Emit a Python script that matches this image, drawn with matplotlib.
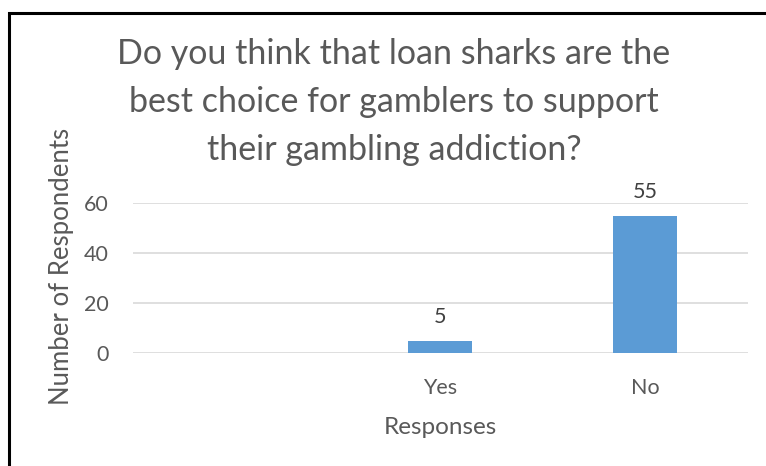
import matplotlib
matplotlib.use("Agg")
import matplotlib.pyplot as plt
from matplotlib.patches import Rectangle

# survey answers (first slot is an empty category, as in the sheet)
categories = ["", "Yes", "No"]
counts = [0, 5, 55]
shown = [False, True, True]

title = "Do you think that loan sharks are the\nbest choice for gamblers to support\ntheir gambling addiction?"

plt.rcParams['font.family'] = ['Lato', 'DejaVu Sans']
txt = '#595959'

fig = plt.figure(figsize=(7.66, 4.66), dpi=100)
ax = fig.add_axes([132.5 / 766, 113 / 466, 615 / 766, 150 / 466])

x = range(len(categories))
bars = ax.bar(x, counts, width=0.31, color='#5b9bd5', zorder=3)

for b, v, s in zip(bars, counts, shown):
    if s:
        ax.annotate(str(v), xy=(b.get_x() + b.get_width() / 2, v),
                    xytext=(0, 9.5), textcoords="offset points",
                    ha='center', va='bottom', fontsize=15.5, color='#404040')

ax.set_xlim(-0.5, 2.5)
ax.set_ylim(0, 60)
ax.set_yticks([0, 20, 40, 60])
ax.set_xticks(list(x))
ax.set_xticklabels(categories)
ax.yaxis.grid(True, color='#d9d9d9', linewidth=1.2, zorder=0)
for sp in ax.spines.values():
    sp.set_visible(False)
ax.tick_params(length=0, labelsize=15.5, labelcolor=txt)
ax.tick_params(axis='y', pad=17)
ax.tick_params(axis='x', pad=18)

ax.set_xlabel("Responses", fontsize=17.5, color=txt, labelpad=14)
ax.set_ylabel("Number of Respondents", fontsize=18.5, color=txt)
ax.yaxis.set_label_coords(-0.095, 0.58)

fig.text(394 / 766, 1 - 102 / 466, title, ha='center', va='center',
         fontsize=24.5, color=txt, linespacing=1.6)

# chart border (only the top and left edges fall inside the image)
fig.patches.append(Rectangle((9 / 766, -0.1), 1.2, 1.1 - 13 / 466,
                             transform=fig.transFigure, fill=False,
                             edgecolor='black', linewidth=2.2))

fig.savefig("out.png", dpi=100)
